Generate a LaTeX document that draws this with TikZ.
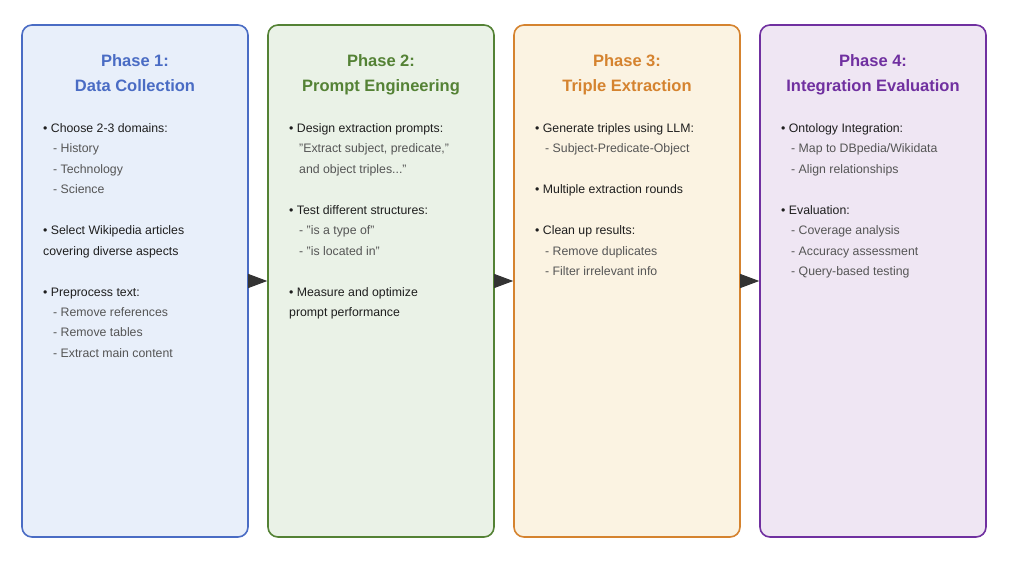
\documentclass[tikz,border=0pt]{standalone}
\usepackage{fontspec}
\setmainfont{Liberation Sans}
\usetikzlibrary{arrows.meta}

\definecolor{bluebd}{HTML}{4A6CC4}
\definecolor{bluefill}{HTML}{E8EFFA}
\definecolor{greenbd}{HTML}{548235}
\definecolor{greenfill}{HTML}{EAF2E7}
\definecolor{orangebd}{HTML}{D5832F}
\definecolor{orangefill}{HTML}{FBF3E2}
\definecolor{purplebd}{HTML}{7030A0}
\definecolor{purplefill}{HTML}{EFE6F3}
\definecolor{maintext}{HTML}{1E1E1E}
\definecolor{subtext}{HTML}{555555}
\definecolor{arrowcol}{HTML}{333333}

\newcommand{\phaselines}[3]{%
  \foreach \k/\kind/\txt [count=\i] in {#3} {
    \node[line\kind, anchor=base west] (#2l\i) at (#1, 132.5+20.45*\k) {\txt};
  }%
}

\begin{document}
\begin{tikzpicture}[x=1pt,y=-1pt,
  phasebox/.style={draw=#1bd, fill=#1fill, line width=1.6pt, rounded corners=10pt,
    minimum width=226pt, minimum height=512pt, inner sep=0pt},
  titletext/.style={text=#1bd, font=\fontsize{16.5}{20}\selectfont\bfseries, inner sep=0pt, anchor=base},
  lineb/.style={text=maintext, font=\fontsize{12.3}{14}\selectfont, inner sep=0pt, xshift=21pt},
  lineg/.style={text=subtext, font=\fontsize{12.3}{14}\selectfont, inner sep=0pt, xshift=31pt},
  flowarrow/.style={draw=arrowcol, line width=1pt, -{Triangle[length=19pt,width=14pt]}, fill=arrowcol}
]
\useasboundingbox (0,0) rectangle (1013,561);

\node[phasebox=blue]   (b1) at (135,281) {};
\node[phasebox=green]  (b2) at (381,281) {};
\node[phasebox=orange] (b3) at (627,281) {};
\node[phasebox=purple] (b4) at (873,281) {};

\node[titletext=blue]   (t1a) at (135,67) {Phase 1:};
\node[titletext=blue]   (t1b) at (135,92) {Data Collection};
\node[titletext=green]  (t2a) at (381,67) {Phase 2:};
\node[titletext=green]  (t2b) at (381,92) {Prompt Engineering};
\node[titletext=orange] (t3a) at (627,67) {Phase 3:};
\node[titletext=orange] (t3b) at (627,92) {Triple Extraction};
\node[titletext=purple] (t4a) at (873,67) {Phase 4:};
\node[titletext=purple] (t4b) at (873,92) {Integration Evaluation};

\phaselines{22}{p1}{0/b/• Choose 2-3 domains:, 1/g/- History, 2/g/- Technology, 3/g/- Science,
  5/b/• Select Wikipedia articles, 6/b/covering diverse aspects,
  8/b/• Preprocess text:, 9/g/- Remove references, 10/g/- Remove tables, 11/g/- Extract main content}
\phaselines{268}{p2}{0/b/• Design extraction prompts:, 1/g/{"Extract subject, predicate,"}, 2/g/{and object triples..."},
  4/b/• Test different structures:, 5/g/- "is a type of", 6/g/- "is located in",
  8/b/• Measure and optimize, 9/b/prompt performance}
\phaselines{514}{p3}{0/b/• Generate triples using LLM:, 1/g/- Subject-Predicate-Object,
  3/b/• Multiple extraction rounds,
  5/b/• Clean up results:, 6/g/- Remove duplicates, 7/g/- Filter irrelevant info}
\phaselines{760}{p4}{0/b/• Ontology Integration:, 1/g/{- Map to DBpedia/Wikidata}, 2/g/- Align relationships,
  4/b/• Evaluation:, 5/g/- Coverage analysis, 6/g/- Accuracy assessment, 7/g/- Query-based testing}

\draw[flowarrow] (b1.east) -- (b2.west);
\draw[flowarrow] (b2.east) -- (b3.west);
\draw[flowarrow] (b3.east) -- (b4.west);
\end{tikzpicture}
\end{document}
